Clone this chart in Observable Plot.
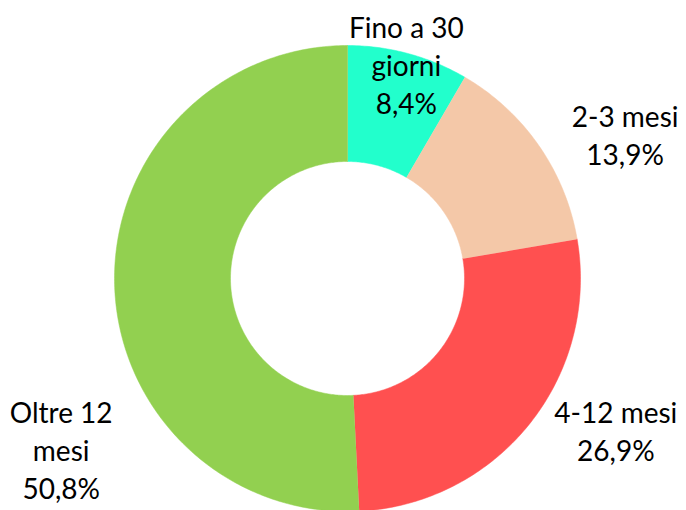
<!DOCTYPE html>
<html><head><meta charset="utf-8">
<script src="https://cdn.jsdelivr.net/npm/d3@7"></script>
<script src="https://cdn.jsdelivr.net/npm/@observablehq/plot@0.6"></script>
<style>body{margin:0;background:#fff}</style>
</head><body><div id="chart"></div>
<script>
// ---- data ----
const categories = ["Fino a 30 giorni", "2-3 mesi", "4-12 mesi", "Oltre 12 mesi"];
const labelTexts = ["Fino a 30\ngiorni", "2-3 mesi", "4-12 mesi", "Oltre 12\nmesi"];
const shares = [8.4, 13.9, 26.9, 50.8];
const sliceColors = ["#22FFCC", "#F4C8A8", "#FF5050", "#92D050"];

// ---- layout ----
const W = 686, H = 510;
const cx = 347, cy = 278, R = 233, R0 = 117;
// label placement: [angle in degrees clockwise from 12 o'clock, distance from centre]
const labelPlace = [[15.3, 223], [62.5, 313], [119.4, 308], [239.3, 333]];

const fmt = v => v.toFixed(1).replace(".", ",") + "%";

const arcs = d3.pie().sort(null).startAngle(0).endAngle(2 * Math.PI)(shares);
const pt = (a, r) => [cx + r * Math.sin(a), cy - r * Math.cos(a)];

const polyPoints = [];
arcs.forEach((a, i) => {
  const n = Math.max(8, Math.ceil((a.endAngle - a.startAngle) * 80));
  for (let k = 0; k <= n; k++) {
    const t = a.startAngle + (a.endAngle - a.startAngle) * k / n;
    const [x, y] = pt(t, R);
    polyPoints.push({cat: categories[i], x, y});
  }
  for (let k = n; k >= 0; k--) {
    const t = a.startAngle + (a.endAngle - a.startAngle) * k / n;
    const [x, y] = pt(t, R0);
    polyPoints.push({cat: categories[i], x, y});
  }
});

const labels = categories.map((c, i) => {
  const [deg, dist] = labelPlace[i];
  const [x, y] = pt(deg * Math.PI / 180, dist);
  return {x, y, text: labelTexts[i] + "\n" + fmt(shares[i])};
});

const chart = Plot.plot({
  width: W, height: H,
  marginTop: 0, marginRight: 0, marginBottom: 0, marginLeft: 0,
  x: {domain: [0, W], axis: null},
  y: {domain: [H, 0], axis: null},
  color: {domain: categories, range: sliceColors},
  style: {background: "#fff"},
  marks: [
    Plot.line(polyPoints, {x: "x", y: "y", z: "cat", fill: "cat", stroke: "cat", strokeWidth: 0.5, curve: "linear"}),
    Plot.text(labels, {x: "x", y: "y", text: "text", fontSize: 28, fontFamily: "Lato", fill: "#000", lineHeight: 1.36, textAnchor: "middle"})
  ]
});
document.getElementById("chart").appendChild(chart);
</script>
</body></html>
